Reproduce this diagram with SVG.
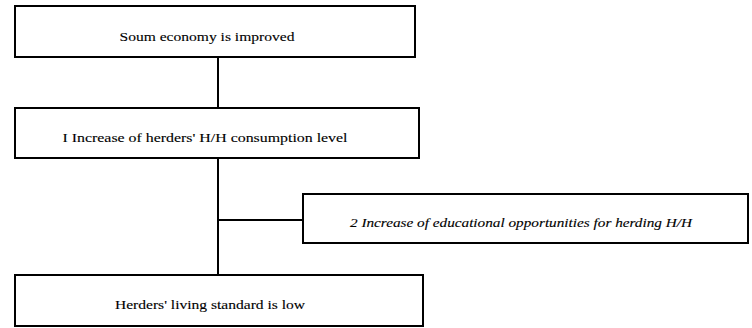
<svg xmlns="http://www.w3.org/2000/svg" width="752" height="328" viewBox="0 0 752 328">
<style>
.box{fill:#fff;stroke:#000;stroke-width:2}
.t{font-family:'Liberation Serif','DejaVu Serif',serif;font-size:13px;fill:#000;text-anchor:middle;stroke:#000;stroke-width:0.12}
.i{font-style:italic}
.c{stroke:#000;stroke-width:2;fill:none}
</style>
<rect width="752" height="328" fill="#fff"/>
<g id="connectors">
<line class="c" x1="218" y1="57" x2="218" y2="108"/>
<line class="c" x1="218" y1="158" x2="218" y2="275"/>
<line class="c" x1="218" y1="220" x2="303" y2="220"/>
</g>
<g id="n1">
<rect class="box" x="15" y="6" width="400" height="51"/>
<text class="t" x="207" y="41" textLength="175" lengthAdjust="spacingAndGlyphs">Soum economy is improved</text>
</g>
<g id="n2">
<rect class="box" x="15" y="108" width="404" height="50"/>
<text class="t" x="205" y="142" textLength="285" lengthAdjust="spacingAndGlyphs">I Increase of herders' H/H consumption level</text>
</g>
<g id="n3">
<rect class="box" x="303" y="194" width="445" height="49"/>
<text class="t i" x="521" y="227" textLength="342" lengthAdjust="spacingAndGlyphs">2 Increase of educational opportunities for herding H/H</text>
</g>
<g id="n4">
<rect class="box" x="15" y="275" width="408" height="51"/>
<text class="t" x="210" y="309" textLength="190" lengthAdjust="spacingAndGlyphs">Herders' living standard is low</text>
</g>
</svg>
